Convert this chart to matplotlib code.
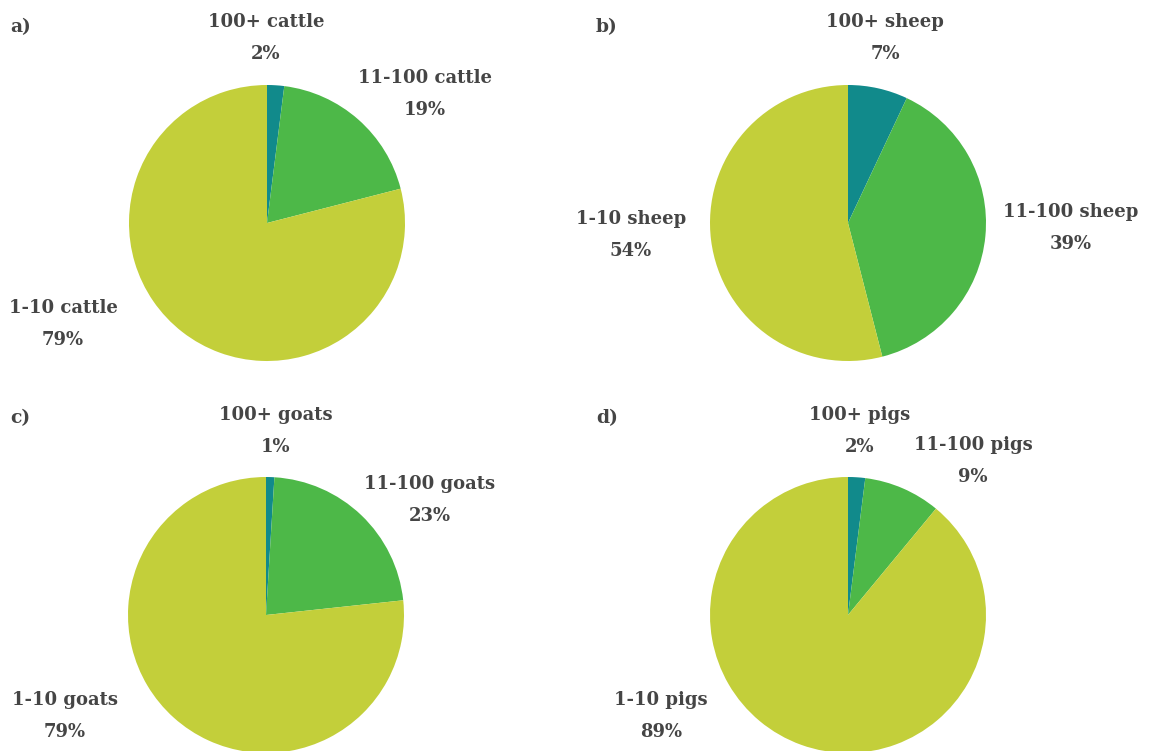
import matplotlib.pyplot as plt

# shares by herd size (clockwise from top: 100+, 11-100, 1-10)
cattle = [2, 19, 79]
sheep = [7, 39, 54]
goats = [1, 23, 79]
pigs = [2, 9, 89]

panel_tags = ['a)', 'b)', 'c)', 'd)']
animals = ['cattle', 'sheep', 'goats', 'pigs']
size_classes = ['100+', '11-100', '1-10']

colors = ['#118a8b', '#4db848', '#c3cf3a']
text_color = '#454545'

W, H = 1149, 751
fig = plt.figure(figsize=(W / 100, H / 100), dpi=100)
ax = fig.add_axes([0, 0, 1, 1])

# pie centres in pixel space (y measured from top)
centres = [(267, 223), (848, 223), (266, 615), (848, 615)]
radius = 138

# label anchor points (pixels from top-left) for each wedge label
label_pos = [
    [(266, 38), (425, 94), (63, 324)],
    [(885, 38), (1071, 228), (631, 235)],
    [(276, 431), (430, 500), (65, 716)],
    [(860, 431), (973, 461), (661, 716)],
]
tag_pos = [(10, 27), (596, 27), (10, 418), (596, 418)]

series = [cattle, sheep, goats, pigs]
for vals, (cx, cy), animal, lp, tag, tp in zip(series, centres, animals, label_pos, panel_tags, tag_pos):
    ax.pie(vals, colors=colors, startangle=90, counterclock=False,
           center=(cx, H - cy), radius=radius,
           wedgeprops=dict(linewidth=0))
    for cls, v, (lx, ly) in zip(size_classes, vals, lp):
        ax.text(lx, H - ly, f'{cls} {animal}\n{v}%', ha='center', va='center',
                fontsize=13, fontweight='bold', family='DejaVu Serif',
                color=text_color, linespacing=2.05)
    ax.text(tp[0], H - tp[1], tag, ha='left', va='center', fontsize=13.5,
            fontweight='bold', family='DejaVu Serif', color=text_color)

ax.set_xlim(0, W)
ax.set_ylim(0, H)
ax.set_aspect('equal')
ax.axis('off')

fig.savefig('out.png', dpi=100)
